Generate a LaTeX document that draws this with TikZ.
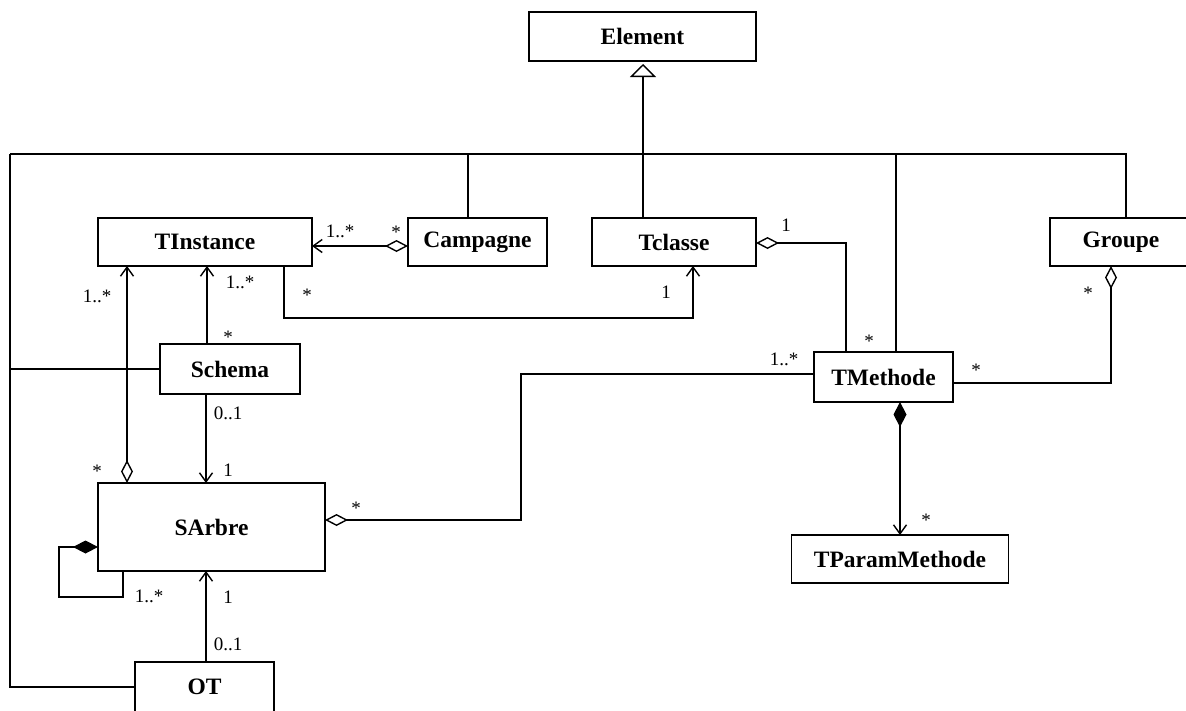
\documentclass[tikz,border=0pt]{standalone}
\usepackage{fontspec}
\setmainfont{Liberation Serif}
\usetikzlibrary{arrows.meta}

\tikzset{
  classe/.style = {draw, line width = 1.4pt, inner sep = 0pt, outer sep = 0pt,
                   font = \fontsize{23.5}{26}\selectfont\bfseries},
  mult/.style = {anchor = base, inner sep = 0pt, font = \fontsize{19}{21}\selectfont},
  lien/.style = {line width = 1.4pt},
  aggr/.tip = {Diamond[open, length = 23pt, width = 12pt]},
  comp/.tip = {Diamond[length = 25pt, width = 13pt]},
  nav/.tip = {Straight Barb[length = 9pt, width = 13pt]},
  gen/.tip = {Triangle[open, length = 13pt, width = 26pt]}
}

\begin{document}
\begin{tikzpicture}[x = 1pt, y = -1pt]
		\useasboundingbox (0, 0) rectangle (1186, 710);

		% classes
		\node[classe, minimum width = 227pt, minimum height = 49pt] (elem) at (642.5, 36.5) {Element};
		\node[classe, minimum width = 214pt, minimum height = 48pt] (tinst) at (205, 242) {TInstance};
		\node[classe, minimum width = 139pt, minimum height = 48pt] (camp) at (477.5, 242) {Campagne};
		\node[classe, minimum width = 164pt, minimum height = 48pt] (tclasse) at (674, 242) {Tclasse};
		\node[classe, minimum width = 142pt, minimum height = 48pt] (groupe) at (1121, 242) {Groupe};
		\node[classe, minimum width = 140pt, minimum height = 50pt] (schema) at (230, 369) {Schema};
		\node[classe, minimum width = 139pt, minimum height = 50pt] (tmeth) at (883.5, 377) {TMethode};
		\node[classe, minimum width = 227pt, minimum height = 88pt] (sarbre) at (211.5, 527) {SArbre};
		\node[classe, minimum width = 217pt, minimum height = 48pt] (tparam) at (900, 559) {TParamMethode};
		\node[classe, minimum width = 139pt, minimum height = 50pt] (ot) at (204.5, 687) {OT};

		% bus towards Element
		\coordinate (bL) at (10, 154);
		\coordinate (bC) at (468, 154);
		\coordinate (bT) at (643, 154);
		\coordinate (bM) at (896, 154);
		\coordinate (bR) at (1126, 154);

		\draw[lien] (bL) -- (bR) -- (bR |- groupe.north);
		\draw[lien, -gen, shorten > = 3pt] (bT) -- (bT |- elem.south);
		\draw[lien] (bC) -- (bC |- camp.north);
		\draw[lien] (bT) -- (bT |- tclasse.north);
		\draw[lien] (bM) -- (bM |- tmeth.north);
		\draw[lien] (ot.west) -| (bL);
		\draw[lien] (schema.west) -- (schema.west -| bL);

		% associations
		\draw[lien, aggr-nav] ([yshift = -4pt]camp.west) -- ([yshift = -4pt]tinst.east);
		\draw[lien, -nav] ([xshift = -28pt]tinst.south east) -- ++(0, 52) -| ([xshift = 19pt]tclasse.south);
		\draw[lien, aggr-] ([yshift = -1pt]tclasse.east) -| ([xshift = -37.5pt]tmeth.north);
		\draw[lien, aggr-] ([xshift = -10pt]groupe.south) |- ([yshift = -6pt]tmeth.east);
		\draw[lien, aggr-] ([yshift = 7pt]sarbre.east) -- ++(196, 0) |- ([yshift = 3pt]tmeth.west);
		\draw[lien, comp-nav] (tparam.north |- tmeth.south) -- (tparam.north);
		\draw[lien, -nav] ([xshift = -23pt]schema.north) -- ([xshift = -23pt]schema.north |- tinst.south);
		\draw[lien, -nav] ([xshift = -24pt]schema.south) -- ([xshift = -24pt]schema.south |- sarbre.north);
		\draw[lien, -nav] ([xshift = 1.5pt]ot.north) -- ([xshift = 1.5pt]ot.north |- sarbre.south);
		\draw[lien, aggr-nav] ([xshift = -84.5pt]sarbre.north) -- ([xshift = -84.5pt]sarbre.north |- tinst.south);
		\draw[lien, comp-] ([yshift = -20pt]sarbre.west) -- ++(-39, 0) -- ++(0, 50) -| ([xshift = 25pt]sarbre.south west);

		% multiplicities
		\node[mult] (m1) at (340, 237) {1..*};
		\node[mult] (m2) at (396, 238) {*};
		\node[mult] (m3) at (240, 288) {1..*};
		\node[mult] (m4) at (228, 343) {*};
		\node[mult] (m5) at (97, 302) {1..*};
		\node[mult] (m6) at (97, 477) {*};
		\node[mult] (m7) at (307, 301) {*};
		\node[mult] (m8) at (666, 298) {1};
		\node[mult] (m9) at (786, 231) {1};
		\node[mult] (m10) at (869, 347) {*};
		\node[mult] (m11) at (1088, 299) {*};
		\node[mult] (m12) at (784, 365) {1..*};
		\node[mult] (m13) at (976, 376) {*};
		\node[mult] (m14) at (926, 526) {*};
		\node[mult] (m15) at (356, 514) {*};
		\node[mult] (m16) at (228, 419) {0..1};
		\node[mult] (m17) at (228, 476) {1};
		\node[mult] (m18) at (149, 602) {1..*};
		\node[mult] (m19) at (228, 603) {1};
		\node[mult] (m20) at (228, 650) {0..1};

		\end{tikzpicture}
\end{document}
